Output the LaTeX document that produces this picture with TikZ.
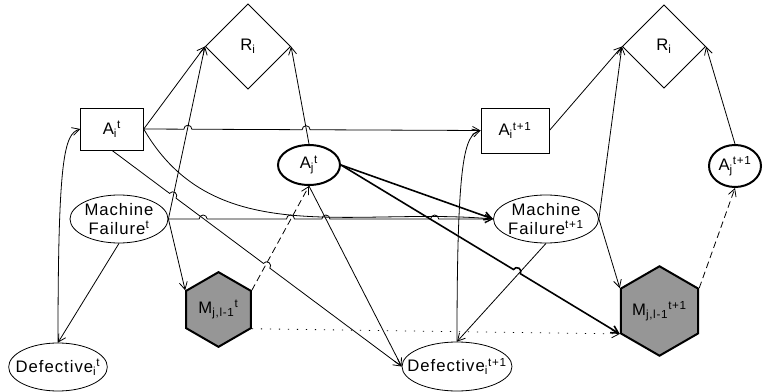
\documentclass[tikz,border=0pt]{standalone}
\usepackage{fontspec}
\setmainfont{Liberation Sans}[LetterSpace=6]
\usetikzlibrary{shapes.geometric,arrows.meta,calc}

\definecolor{hexfill}{RGB}{150,150,150}

% a small bump where a link jumps over another one (needs \p1, \p2, \n1 from let)
\newcommand{\hopr}{3pt}
\newcommand{\hop}[1]{-- ($(\p1)!#1!(\p2)+(\n1+180:\hopr)$)
  arc[start angle=\n1+180, end angle=\n1, radius=\hopr]}

\begin{document}
\begin{tikzpicture}[x=0.75pt, y=-0.75pt, line width=0.6pt,
    >={Straight Barb[length=5.5pt,width=6pt]},
    font=\fontsize{12.5}{14}\selectfont]

    \tikzset{decision/.style={%
      draw,%
      rectangle,%
      inner sep=0pt}%
    };

    \tikzset{chance/.style={draw, ellipse, inner sep=0pt}};
    \tikzset{agent/.style={chance, line width=1.5pt}};
    \tikzset{reward/.style={draw, diamond, inner sep=0pt}};
    \tikzset{message/.style={draw, regular polygon, regular polygon sides=6,
      shape border rotate=90, fill=hexfill, line width=1.5pt, inner sep=0pt}};
    \tikzset{strong/.style={line width=1.2pt}};
    \tikzset{msgline/.style={dash pattern=on 5pt off 3pt}};
    \tikzset{carry/.style={dash pattern=on 1pt off 5.75pt}};

    \useasboundingbox (0,0) rectangle (764,392);

    %%%%%%%%%%%%%%%
    %  slice t    %
    %%%%%%%%%%%%%%%
    \node [decision, minimum width=47pt, minimum height=31.5pt] (ait) at (112,129) {A\textsubscript{i}\textsuperscript{t}};
    \node [reward, minimum size=64pt] (ril) at (248,46.5) {R\textsubscript{i}};
    \node [agent, minimum width=46.5pt, minimum height=30pt, label=center:A\textsubscript{j}\textsuperscript{t}] (ajt) at (309,165) {};
    \node [chance, minimum width=73.5pt, minimum height=36pt, label={[align=center]center:Machine\\Failure\textsuperscript{t}}] (mft) at (119,219) {};
    \node [chance, minimum width=74pt, minimum height=36pt, label=center:Defective\textsubscript{i}\textsuperscript{t}] (deft) at (58,367) {};
    \node [message, minimum size=56pt] (mt) at (218.5,309.5) {M\textsubscript{j,l-1}\textsuperscript{t}};

    %%%%%%%%%%%%%%%
    %  slice t+1  %
    %%%%%%%%%%%%%%%
    \node [decision, minimum width=51pt, minimum height=33.75pt] (ait1) at (515,130.5) {A\textsubscript{i}\textsuperscript{t+1}};
    \node [reward, minimum size=62.5pt] (rir) at (664,46.5) {R\textsubscript{i}};
    \node [agent, minimum width=39pt, minimum height=31.5pt, label=center:A\textsubscript{j}\textsuperscript{t+1}] (ajt1) at (735,166) {};
    \node [chance, minimum width=78.75pt, minimum height=36pt, label={[align=center]center:Machine\\Failure\textsuperscript{t+1}}] (mft1) at (546,219) {};
    \node [chance, minimum width=82.5pt, minimum height=36.75pt, label=center:Defective\textsubscript{i}\textsuperscript{t+1}] (deft1) at (457,366.5) {};
    \node [message, minimum size=54pt] (mt1) at (659.5,311) {M\textsubscript{j,l-1}\textsuperscript{t+1}};

    % links inside slice t
    \draw [->] (ait.east) -- (ril.west);
    \draw [->] (mft.east) -- (ril.west);
    \draw [->] (ajt.north) -- (ril.east);
    \draw [->] (mft.east) -- (mt.150);
    \draw [->] (mft.south) -- (deft.north);
    \draw [->] (deft.north) .. controls +(0,-185) and +(-16,5) .. (ait.west);
    \draw [->, msgline] (mt.30) -- (ajt.south);

    % links from t to t+1
    \draw [->] let \p1=(ait.east), \p2=(ait1.west), \n1={atan2(\y2-\y1,\x2-\x1)} in
      (\p1) \hop{0.131} \hop{0.482} -- (\p2);
    \draw [->] let \p1=(mft.east), \p2=(mft1.west), \n1={atan2(\y2-\y1,\x2-\x1)} in
      (\p1) \hop{0.107} \hop{0.376} \hop{0.485} \hop{0.82} -- (\p2);
    \draw [->] let \p1=(ait.south), \p2=(deft1.west), \n1={atan2(\y2-\y1,\x2-\x1)} in
      (\p1) \hop{0.21} \hop{0.534} -- (\p2);
    \draw [->] (ait.east) to [out=-60, in=175] (mft1.west);
    \draw [->] (ajt.south) -- (deft1.west);
    \draw [->, strong] (ajt.east) -- (mft1.west);
    \draw [->, strong] let \p1=(ajt.east), \p2=(mt1.210), \n1={atan2(\y2-\y1,\x2-\x1)} in
      (\p1) \hop{0.631} -- (\p2);
    \draw [->, carry] (mt.330) -- (mt1.210);

    % links inside slice t+1
    \draw [->] (ait1.east) -- (rir.west);
    \draw [->] (mft1.east) -- (rir.west);
    \draw [->] (ajt1.north) -- (rir.east);
    \draw [->] (mft1.east) -- (mt1.150);
    \draw [->] (mft1.south) -- (deft1.north);
    \draw [->] (deft1.north) .. controls +(0,-185) and +(-16,5) .. (ait1.west);
    \draw [->, msgline] (mt1.30) -- (ajt1.south);

  \end{tikzpicture}
\end{document}
